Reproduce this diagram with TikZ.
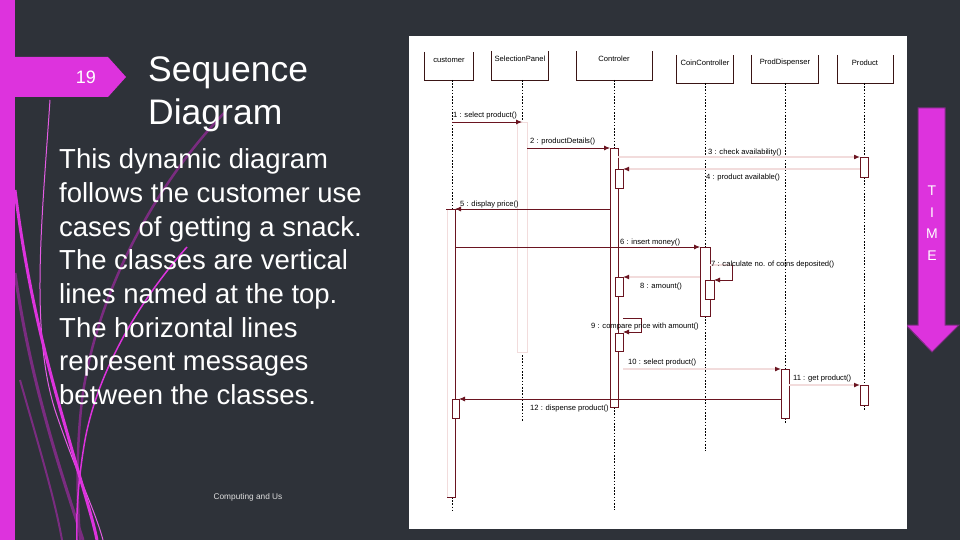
\documentclass[tikz,border=0pt]{standalone}
\usepackage{fontspec}
\setmainfont{Liberation Sans}
\usetikzlibrary{arrows.meta}
\definecolor{slidebg}{HTML}{2E3239}
\definecolor{magbar}{HTML}{DD33DD}
\definecolor{darkmag}{HTML}{7A2C80}
\definecolor{msgred}{HTML}{6A1420}
\definecolor{faintred}{HTML}{F2DCDC}
\definecolor{boxline}{HTML}{3A1515}
\tikzset{>={Latex[width=5pt,length=6pt]}}
\tikzset{
  lifeline/.style={black, line width=0.7pt, dash pattern=on 1.6pt off 1.6pt},
  actbar/.style={draw=msgred, fill=white, line width=0.8pt},
  msg/.style={msgred, line width=0.8pt, ->},
  faintmsg/.style={faintred, line width=1.3pt, -{Latex[width=5pt,length=6pt,color=msgred]}},
  msglbl/.style={anchor=base west, inner sep=0pt, font=\fontsize{7.6}{9}\selectfont},
  objlbl/.style={inner sep=0pt, font=\fontsize{7.6}{9}\selectfont},
  bodytxt/.style={anchor=base west, inner sep=0pt, text=white, font=\fontsize{27.5}{32}\selectfont},
}
\begin{document}
\begin{tikzpicture}[x=1pt,y=-1pt]
  \useasboundingbox (0,0) rectangle (960,540);
  \fill[slidebg] (0,0) rectangle (960,540);

  % left decoration
  \draw[darkmag, line width=2.5pt] (225,112) .. controls (150,190) and (95,300) .. (82,400) .. controls (75,460) and (78,510) .. (80,540);
  \draw[darkmag, line width=3pt] (15,273) .. controls (30,380) and (60,470) .. (83,540);
  \draw[darkmag, line width=2pt] (20,380) .. controls (40,450) and (55,500) .. (62,540);
  \draw[magbar!80, line width=1pt] (50,100) .. controls (42,220) and (30,330) .. (55,410) .. controls (75,470) and (95,510) .. (103,540);
  \draw[magbar, line width=3pt] (15,190) .. controls (30,310) and (55,390) .. (72,450) .. controls (85,495) and (93,520) .. (97,540);
  \draw[magbar, line width=1.5pt] (187,247) .. controls (140,300) and (98,370) .. (85,440) .. controls (78,480) and (76,515) .. (77,540);
  \fill[magbar] (0,0) rectangle (15,540);

  % slide number tag and title
  \fill[magbar] (15,57) -- (108,57) -- (126,77) -- (108,97) -- (15,97) -- cycle;
  \node[text=white, font=\fontsize{18}{20}\selectfont] (slidenum) at (86,77) {19};
  \node[bodytxt, font=\fontsize{35.5}{40}\selectfont] (title1) at (148,82) {Sequence};
  \node[bodytxt, font=\fontsize{35.5}{40}\selectfont] (title2) at (148,125) {Diagram};

  % body text
  \foreach \txt [count=\i] in {This dynamic diagram, follows the customer use,
      cases of getting a snack., The classes are vertical, lines named at the top.,
      The horizontal lines, represent messages, between the classes.}
    \node[bodytxt] (body\i) at (59,169+33.6*\i-33.6) {\txt};
  \node[text=white!88!black, font=\fontsize{8.3}{9}\selectfont] (footer) at (248,497) {Computing and Us};

  % time arrow
  \draw[fill=magbar, draw=darkmag, line width=1pt] (918,108) -- (945,108) -- (945,325) -- (959,325)
    -- (932,352) -- (906,325) -- (918,325) -- cycle;
  \node[text=white, align=center, font=\fontsize{14}{21.5}\selectfont] (timetxt) at (932,223) {T\\I\\M\\E};

  % diagram panel
  \fill[white] (409,36) rectangle (907,529);

  % objects
  \node[minimum width=48pt, minimum height=28pt] (cust) at (449,66) {};
  \node[minimum width=56pt, minimum height=29pt] (selp) at (520,65.5) {};
  \node[minimum width=75pt, minimum height=29pt] (ctrl) at (614.5,65.5) {};
  \node[minimum width=56pt, minimum height=28pt] (coin) at (705,69) {};
  \node[minimum width=66pt, minimum height=28pt] (disp) at (785,69) {};
  \node[minimum width=55pt, minimum height=28pt] (prod) at (865.5,69) {};
  \foreach \ob in {cust,selp,ctrl,coin,disp,prod}
    \draw[boxline, line width=0.7pt] (\ob.north west) |- (\ob.south east) -- (\ob.north east);
  \node[objlbl] (custlbl) at (449,60) {customer};
  \node[objlbl] (selplbl) at (520,59) {SelectionPanel};
  \node[objlbl] (ctrllbl) at (614,59) {Controler};
  \node[objlbl] (coinlbl) at (705,63) {CoinController};
  \node[objlbl] (displbl) at (785,63) {ProdDispenser};
  \node[objlbl] (prodlbl) at (865,63) {Product};

  % lifelines
  \draw[lifeline] (452,80) -- (452,209) (452,497) -- (452,510);
  \draw[lifeline] (522,80) -- (522,122) (522,355) -- (522,421);
  \draw[lifeline] (614,80) -- (614,148) (614,407) -- (614,510);
  \draw[lifeline] (705,83) -- (705,247) (705,316) -- (705,451);
  \draw[lifeline] (785,83) -- (785,369) (785,418) -- (785,424);
  \draw[lifeline] (864,83) -- (864,157) (864,177) -- (864,385) (864,405) -- (864,411);

  % activations
  \draw[faintred, line width=0.8pt] (517,122) rectangle (527,352);
  \fill[white] (447,209) rectangle (455,497);
  \draw[faintred, line width=0.8pt] (447,209) -- (447,497);
  \draw[msgred, line width=0.8pt] (447,497) -| (455,209);
  \draw[actbar] (610,148) rectangle (618,407);
  \draw[actbar] (700,247) rectangle (710,316);
  \draw[actbar] (781,369) rectangle (789,418);
  \draw[actbar] (860,157) rectangle (868,177);
  \draw[actbar] (860,385) rectangle (868,405);
  \draw[actbar] (615,169) rectangle (623,188);
  \draw[actbar] (615,277) rectangle (623,296);
  \draw[actbar] (615,333) rectangle (623,351);
  \draw[actbar] (705,280) rectangle (714,299);
  \draw[actbar] (452,399) rectangle (459,418);

  % message ends
  \coordinate (m1a) at (452,122);  \coordinate (m1b) at (522,122);
  \coordinate (m2a) at (527,148);  \coordinate (m2b) at (610,148);
  \coordinate (m3a) at (618,157);  \coordinate (m3b) at (860,157);
  \coordinate (m4a) at (860,169);  \coordinate (m4b) at (623,169);
  \coordinate (m5a) at (610,209);  \coordinate (m5b) at (455,209);
  \coordinate (m6a) at (455,247);  \coordinate (m6b) at (700,247);
  \coordinate (m7a) at (710,265);  \coordinate (m7b) at (732,265);
  \coordinate (m7c) at (732,280);  \coordinate (m7d) at (714,280);
  \coordinate (m8a) at (700,277);  \coordinate (m8b) at (623,277);
  \coordinate (m9a) at (623,318);  \coordinate (m9b) at (641,318);
  \coordinate (m9c) at (641,332);  \coordinate (m9d) at (623,332);
  \coordinate (m10a) at (623,369); \coordinate (m10b) at (781,369);
  \coordinate (m11a) at (789,385); \coordinate (m11b) at (860,385);
  \coordinate (m12a) at (781,399); \coordinate (m12b) at (459,399);

  % messages
  \draw[msg] (m1a) -- (m1b);
  \draw[msg] (m2a) -- (m2b);
  \draw[faintmsg] (m3a) -- (m3b);
  \draw[faintmsg] (m4a) -- (m4b);
  \draw[msgred, line width=0.8pt] (m5a) -- (446,209);
  \draw[msg] (m5a) -- (m5b);
  \draw[msg] (m6a) -- (m6b);
  \draw[faintred, line width=1.3pt] (m7a) -- (m7b);
  \draw[msg] (m7b) -- (m7c) -- (m7d);
  \draw[faintmsg] (m8a) -- (m8b);
  \draw[msg] (m9a) -- (m9b) -- (m9c) -- (m9d);
  \draw[faintmsg] (m10a) -- (m10b);
  \draw[faintmsg] (m11a) -- (m11b);
  \draw[msg] (m12a) -- (m12b);

  % message labels
  \node[msglbl] (l1) at (453,118) {1 : select product()};
  \node[msglbl] (l2) at (530,144) {2 : productDetails()};
  \node[msglbl] (l3) at (708,155) {3 : check availability()};
  \node[msglbl] (l4) at (706,179) {4 : product available()};
  \node[msglbl] (l5) at (460,206) {5 : display price()};
  \node[msglbl] (l6) at (620,244) {6 : insert money()};
  \node[msglbl] (l7) at (711,266) {7 : calculate no. of coins deposited()};
  \node[msglbl] (l8) at (640,288) {8 : amount()};
  \node[msglbl] (l9) at (591,328) {9 : compare price with amount()};
  \node[msglbl] (l10) at (628,364) {10 : select product()};
  \node[msglbl] (l11) at (793,380) {11 : get product()};
  \node[msglbl] (l12) at (530,410) {12 : dispense product()};

\end{tikzpicture}
\end{document}
